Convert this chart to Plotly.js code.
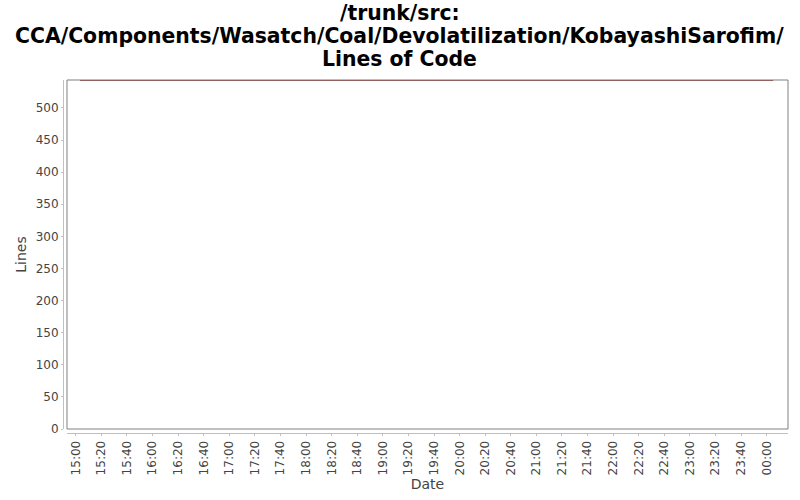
<!DOCTYPE html>
<html>
<head>
<meta charset="utf-8">
<script src="https://cdn.plot.ly/plotly-3.0.1.min.js"></script>
<style>
  html, body { margin: 0; padding: 0; background: #fff; }
  #chart { width: 800px; height: 500px; }
</style>
</head>
<body>
<div id="chart"></div>
<script>
// lines of code over time (one day of commits, value unchanged)
const dates = ["2000-01-01 15:03:20", "2000-01-02 00:05:00"];
const lineCounts = [543, 543];
const titleLines = [
  "/trunk/src:",
  "CCA/Components/Wasatch/Coal/Devolatilization/KobayashiSarofim/",
  "Lines of Code"
];

const tickVals = [];
const tickText = [];
for (let m = 15 * 60; m <= 24 * 60; m += 20) {
  const h = Math.floor(m / 60) % 24;
  const mm = m % 60;
  const day = m >= 24 * 60 ? "02" : "01";
  const hs = String(h).padStart(2, "0");
  const ms = String(mm).padStart(2, "0");
  tickVals.push(`2000-01-${day} ${hs}:${ms}:00`);
  tickText.push(`${hs}:${ms}`);
}

const tickFont = { family: "DejaVu Sans", size: 12, color: "#444" };
const titleFont = { family: "DejaVu Sans", size: 14, color: "#444" };

const trace = {
  x: dates,
  y: lineCounts,
  type: "scatter",
  mode: "lines",
  line: { color: "#8b1c1c", width: 1 },
  hoverinfo: "skip"
};

// title lines placed one by one (JFreeChart spacing is tighter than plotly's <br>)
const titleY = [1.1898, 1.1246, 1.0595];
const annotations = titleLines.map((t, i) => ({
  text: "<b>" + t + "</b>",
  xref: "paper",
  yref: "paper",
  x: 0.4648,
  y: titleY[i],
  xanchor: "center",
  yanchor: "middle",
  showarrow: false,
  font: { family: "DejaVu Sans", size: 20.4, color: "#000" }
}));

const layout = {
  width: 800,
  height: 500,
  margin: { l: 63, r: 12, t: 80, b: 67 },
  paper_bgcolor: "#fff",
  plot_bgcolor: "#fff",
  showlegend: false,
  annotations: annotations,
  xaxis: {
    type: "date",
    domain: [0.0055, 1],
    anchor: "free",
    position: 0,
    range: ["2000-01-01 14:53:12", "2000-01-02 00:16:36"],
    tickmode: "array",
    tickvals: tickVals,
    ticktext: tickText,
    tickangle: -90,
    tickfont: tickFont,
    ticks: "outside",
    ticklen: 2,
    tickcolor: "#c0c0c0",
    showline: true,
    linecolor: "#c0c0c0",
    linewidth: 1,
    showgrid: false,
    zeroline: false,
    title: { text: "Date", font: titleFont, standoff: 4 }
  },
  yaxis: {
    domain: [0.0113, 1],
    anchor: "free",
    position: 0,
    range: [0, 543.5],
    tickvals: [0, 50, 100, 150, 200, 250, 300, 350, 400, 450, 500],
    tickfont: tickFont,
    ticks: "outside",
    ticklen: 2,
    tickcolor: "#c0c0c0",
    showline: true,
    linecolor: "#c0c0c0",
    linewidth: 1,
    showgrid: false,
    zeroline: false,
    title: { text: "Lines", font: titleFont, standoff: 4 }
  },
  shapes: [{
    type: "rect",
    xref: "x domain",
    yref: "y domain",
    x0: 0, x1: 1, y0: 0, y1: 1,
    line: { color: "#808080", width: 1 },
    layer: "above"
  }]
};

Plotly.newPlot("chart", [trace], layout, { staticPlot: true, displayModeBar: false });
</script>
</body>
</html>
